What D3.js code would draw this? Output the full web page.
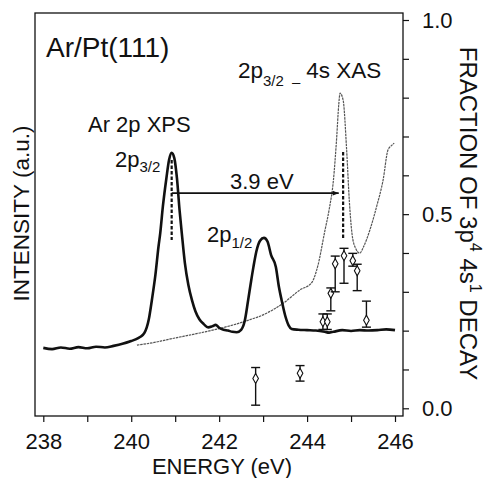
<!DOCTYPE html>
<html>
<head>
<meta charset="utf-8">
<script src="https://cdn.jsdelivr.net/npm/d3@7"></script>
<style>
  body { margin: 0; background: #fff; }
  svg text { font-family: "Liberation Sans", Arial, Helvetica, sans-serif; fill: #111; }
  .axis path { display: none; }
  .axis line { stroke: #111; stroke-width: 1.2; }
  .axis text { font-size: 22px; }
</style>
</head>
<body>
<svg id="chart" width="490" height="478"></svg>
<script>
// Ar 2p XPS (thick curve), intensity in arbitrary units (0-100 over the frame height)
const xpsEnergy = [238.0, 238.2, 238.4, 238.6, 238.8, 239.0, 239.2, 239.4, 239.6, 239.8, 240.0, 240.1, 240.2, 240.3,
  240.4, 240.47, 240.55, 240.62, 240.66, 240.72, 240.8, 240.86, 240.92, 240.98, 241.04, 241.1, 241.15, 241.22,
  241.3, 241.38, 241.46, 241.55, 241.65, 241.75, 241.85, 241.92, 242.0, 242.1, 242.2, 242.3, 242.4, 242.5,
  242.58, 242.66, 242.72, 242.78, 242.85, 242.93, 243.02, 243.1, 243.18, 243.29, 243.36, 243.42, 243.5, 243.58,
  243.65, 243.8, 244.0, 244.2, 244.4, 244.5, 244.6, 244.8, 245.0, 245.2, 245.4, 245.6, 245.8, 246.0];
const xpsIntensity = [16.9, 16.6, 17.0, 16.7, 17.1, 16.8, 17.2, 17.0, 17.4, 17.9, 18.6, 19.0, 19.6, 20.6,
  24.0, 28.8, 35.0, 42.0, 45.4, 52.0, 59.0, 63.5, 65.3, 64.0, 59.0, 51.0, 45.4, 38.0,
  32.5, 28.8, 26.0, 24.0, 22.8, 22.0, 22.3, 22.6, 21.9, 21.4, 21.2, 20.9, 20.8, 21.4,
  23.5, 28.8, 33.0, 37.0, 41.0, 43.5, 44.2, 43.3, 40.0, 37.0, 32.0, 28.8, 25.0, 22.5,
  21.6, 21.4, 21.3, 21.2, 20.9, 20.7, 20.9, 21.3, 21.1, 21.3, 21.2, 21.3, 21.5, 21.3];

// 2p3/2 -> 4s XAS (thin curve), same arbitrary units
const xasEnergy = [240.13, 240.5, 240.8, 241.2, 241.56, 242.0, 242.32, 242.7, 243.0, 243.46, 243.84, 244.1, 244.25,
  244.4, 244.5, 244.6, 244.67, 244.72, 244.75, 244.82, 244.9, 244.96, 245.02, 245.1, 245.2, 245.28,
  245.43, 245.58, 245.73, 245.84, 245.93, 245.98];
const xasIntensity = [17.6, 18.2, 18.9, 19.8, 20.6, 21.7, 22.6, 23.9, 25.1, 28.0, 31.3, 33.0, 37.5,
  45.7, 51.1, 58.6, 68.5, 77.2, 80.1, 78.4, 66.0, 53.6, 45.4, 41.7, 40.4, 41.9,
  46.2, 51.9, 58.6, 66.0, 67.2, 67.7];

// Fraction of 3p^4 4s^1 decay (diamonds, right axis) with asymmetric error bars
const decayEnergy = [242.83, 243.84, 244.36, 244.46, 244.54, 244.64, 244.84, 245.04, 245.14, 245.35];
const decayFraction = [0.077, 0.090, 0.223, 0.223, 0.296, 0.372, 0.393, 0.380, 0.354, 0.227];
const decayLow = [0.008, 0.070, 0.203, 0.203, 0.251, 0.300, 0.322, 0.366, 0.303, 0.209];
const decayHigh = [0.105, 0.110, 0.243, 0.243, 0.310, 0.392, 0.412, 0.399, 0.371, 0.276];

// Axis ticks
const energyTicks = [238, 239, 240, 241, 242, 243, 244, 245, 246];
const fractionTicks = [0, 0.1, 0.2, 0.3, 0.4, 0.5, 0.6, 0.7, 0.8, 0.9, 1.0];

// Peak positions used for the 3.9 eV marker
const xpsPeak = 240.92;
const xasPeak = 244.82;

class SpectrumChart {
  constructor(svgContainer) {
    this.svg = svgContainer;
    this.init();
    this.draw();
  }

  init() {
    // Frame box of the plot
    this.margin = { top: 13, right: 87, bottom: 62, left: 35 };
    this.width = 490 - this.margin.left - this.margin.right;
    this.height = 478 - this.margin.top - this.margin.bottom;

    this.chart = this.svg.append('g')
      .attr('transform', `translate(${this.margin.left},${this.margin.top})`);

    // Scales
    this.xScale = d3.scaleLinear()
      .domain([238, 246])
      .range([8.3, 360]);

    this.yInt = d3.scaleLinear()
      .domain([0, 100])
      .range([this.height, 0]);

    this.yFrac = d3.scaleLinear()
      .domain([0, 1])
      .range([395.3, 7]);

    // Arrow head for the 3.9 eV line
    this.svg.append('defs').append('marker')
      .attr('id', 'arrow')
      .attr('viewBox', '0 0 10 10')
      .attr('refX', 10)
      .attr('refY', 5)
      .attr('markerWidth', 7)
      .attr('markerHeight', 6)
      .attr('markerUnits', 'userSpaceOnUse')
      .attr('orient', 'auto')
      .append('path')
      .attr('d', 'M0,1 L10,5 L0,9 Z')
      .attr('fill', '#111');
  }

  draw() {
    const x = this.xScale;

    // Axes
    this.chart.append('g')
      .attr('class', 'axis')
      .attr('transform', `translate(0,${this.height})`)
      .call(d3.axisBottom(x)
        .tickValues(energyTicks)
        .tickSize(6)
        .tickPadding(11)
        .tickFormat((d) => (d % 2 === 0 ? d : '')));

    this.chart.append('g')
      .attr('class', 'axis')
      .attr('transform', `translate(${this.width},0)`)
      .call(d3.axisRight(this.yFrac)
        .tickValues(fractionTicks)
        .tickSize(6)
        .tickPadding(13)
        .tickFormat((d) => ([0, 0.5, 1].includes(d) ? d.toFixed(1) : '')));

    // Frame
    this.chart.append('rect')
      .attr('width', this.width)
      .attr('height', this.height)
      .attr('fill', 'none')
      .attr('stroke', '#111')
      .attr('stroke-width', 1.3);

    // XAS curve (thin, dotted look)
    const curve = d3.line()
      .x((d) => x(d[0]))
      .y((d) => this.yInt(d[1]))
      .curve(d3.curveMonotoneX);

    this.chart.append('path')
      .datum(d3.zip(xasEnergy, xasIntensity))
      .attr('d', curve)
      .attr('fill', 'none')
      .attr('stroke', '#555')
      .attr('stroke-width', 1.2)
      .attr('stroke-dasharray', '2.5,0.8');

    // XPS curve (thick)
    this.chart.append('path')
      .datum(d3.zip(xpsEnergy, xpsIntensity))
      .attr('d', curve)
      .attr('fill', 'none')
      .attr('stroke', '#111')
      .attr('stroke-width', 2.6)
      .attr('stroke-linejoin', 'round');

    // Dashed peak markers and the 3.9 eV separation
    this.chart.append('line')
      .attr('x1', x(xpsPeak)).attr('x2', x(xpsPeak))
      .attr('y1', this.yInt(63.5)).attr('y2', this.yInt(43.7))
      .attr('stroke', '#111').attr('stroke-width', 2.2)
      .attr('stroke-dasharray', '3.5,2');

    this.chart.append('line')
      .attr('x1', x(xasPeak)).attr('x2', x(xasPeak))
      .attr('y1', this.yInt(65.5)).attr('y2', this.yInt(43.7))
      .attr('stroke', '#111').attr('stroke-width', 2.2)
      .attr('stroke-dasharray', '3.5,2');

    this.chart.append('line')
      .attr('x1', x(xpsPeak)).attr('x2', x(xasPeak - 0.1))
      .attr('y1', this.yInt(55.3)).attr('y2', this.yInt(55.3))
      .attr('stroke', '#111').attr('stroke-width', 1.6)
      .attr('marker-end', 'url(#arrow)');

    // Decay fraction points with error bars
    const decay = decayEnergy.map((e, i) => ({
      e, f: decayFraction[i], lo: decayLow[i], hi: decayHigh[i],
    }));

    const pts = this.chart.selectAll('.decay')
      .data(decay)
      .enter().append('g')
      .attr('class', 'decay');

    pts.append('line')
      .attr('x1', (d) => x(d.e)).attr('x2', (d) => x(d.e))
      .attr('y1', (d) => this.yFrac(d.lo)).attr('y2', (d) => this.yFrac(d.hi))
      .attr('stroke', '#111').attr('stroke-width', 1.4);

    ['lo', 'hi'].forEach((k) => {
      pts.append('line')
        .attr('x1', (d) => x(d.e) - 4.5).attr('x2', (d) => x(d.e) + 4.5)
        .attr('y1', (d) => this.yFrac(d[k])).attr('y2', (d) => this.yFrac(d[k]))
        .attr('stroke', '#111').attr('stroke-width', 1.4);
    });

    pts.append('path')
      .attr('d', (d) => {
        const cx = x(d.e);
        const cy = this.yFrac(d.f);
        return `M${cx},${cy - 5}L${cx + 2.8},${cy}L${cx},${cy + 5}L${cx - 2.8},${cy}Z`;
      })
      .attr('fill', '#fff')
      .attr('stroke', '#111')
      .attr('stroke-width', 1.1);

    this.drawLabels();
  }

  drawLabels() {
    const svg = this.svg;

    // Axis titles
    svg.append('text')
      .attr('x', 222).attr('y', 473.5)
      .attr('text-anchor', 'middle')
      .style('font-size', '22px')
      .text('ENERGY (eV)');

    svg.append('text')
      .attr('transform', 'translate(29,213.5) rotate(-90)')
      .attr('text-anchor', 'middle')
      .style('font-size', '22.5px')
      .text('INTENSITY (a.u.)');

    const right = svg.append('text')
      .attr('transform', 'translate(460,213.5) rotate(90)')
      .attr('text-anchor', 'middle')
      .style('font-size', '24px');
    right.append('tspan').text('FRACTION OF 3p');
    right.append('tspan').attr('dy', -10).style('font-size', '16px').text('4');
    right.append('tspan').attr('dy', 10).text(' 4s');
    right.append('tspan').attr('dy', -10).style('font-size', '16px').text('1');
    right.append('tspan').attr('dy', 10).text(' DECAY');

    // Annotations
    svg.append('text')
      .attr('x', 46).attr('y', 57)
      .style('font-size', '28px')
      .text('Ar/Pt(111)');

    const xas = svg.append('text')
      .attr('x', 238).attr('y', 78)
      .style('font-size', '22.5px');
    xas.append('tspan').text('2p');
    xas.append('tspan').attr('dy', 8).style('font-size', '15px').text('3/2');
    xas.append('tspan').attr('dx', 8).attr('dy', 1).style('font-size', '15px').text('–');
    xas.append('tspan').attr('dy', -9).attr('dx', 6).text('4s XAS');

    svg.append('text')
      .attr('x', 88).attr('y', 132)
      .style('font-size', '22px')
      .text('Ar 2p XPS');

    const p32 = svg.append('text')
      .attr('x', 115).attr('y', 166.5)
      .style('font-size', '22px');
    p32.append('tspan').text('2p');
    p32.append('tspan').attr('dy', 5).style('font-size', '15px').text('3/2');

    svg.append('text')
      .attr('x', 230).attr('y', 189)
      .style('font-size', '22px')
      .text('3.9 eV');

    const p12 = svg.append('text')
      .attr('x', 207).attr('y', 241.5)
      .style('font-size', '22px');
    p12.append('tspan').text('2p');
    p12.append('tspan').attr('dy', 6).style('font-size', '15px').text('1/2');
  }
}

const chart = new SpectrumChart(d3.select('#chart'));
</script>
</body>
</html>
